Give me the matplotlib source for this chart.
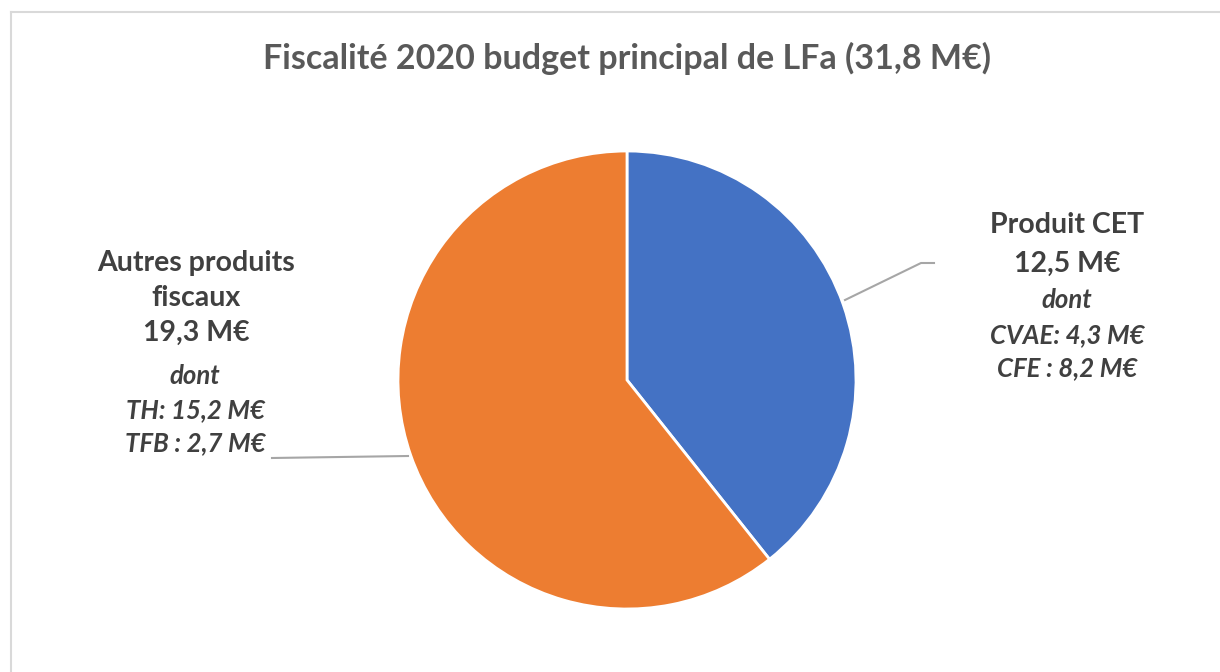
import matplotlib.pyplot as plt

plt.rcParams["font.family"] = ["Lato", "DejaVu Sans"]

# ====================== données ======================
titre = "Fiscalité 2020 budget principal de LFa (31,8 M€)"
categories = ["Produit CET", "Autres produits fiscaux"]
valeurs = [12.5, 19.3]
couleurs = ["#4472C4", "#ED7D31"]
lignes_cet = ["Produit CET", "12,5 M€", "dont", "CVAE: 4,3 M€", "CFE : 8,2 M€"]
lignes_autres = ["Autres produits", "fiscaux", "19,3 M€", "dont", "TH: 15,2 M€", "TFB : 2,7 M€"]

W, H = 1220, 672
fig = plt.figure(figsize=(W / 100, H / 100), dpi=100)
ax = fig.add_axes([0, 0, 1, 1])

# camembert en coordonnées pixel (axe y inversé -> sens trigo inversé à l'écran)
ax.pie(valeurs, colors=couleurs, startangle=-90, counterclock=True,
       center=(627, 380), radius=229,
       wedgeprops=dict(edgecolor="white", linewidth=2))
ax.set_xlim(0, W)
ax.set_ylim(H, 0)
ax.set_aspect("equal")
ax.axis("off")

# cadre (haut et gauche visibles)
ax.plot([11, W], [12, 12], color="#d9d9d9", lw=1.5, clip_on=False)
ax.plot([11, 11], [12, H], color="#d9d9d9", lw=1.5, clip_on=False)

ax.text(627, 58, titre, ha="center", va="center", fontsize=24.5,
        fontweight="bold", color="#595959")

gris = "#404040"
# étiquette droite
y_cet = [225, 264, 300, 335, 368]
for i, (txt, y) in enumerate(zip(lignes_cet, y_cet)):
    if i < 2:
        ax.text(1067, y, txt, ha="center", va="center", fontsize=20.5,
                fontweight="bold", color=gris)
    else:
        ax.text(1067, y, txt, ha="center", va="center", fontsize=18.5,
                fontweight="bold", style="italic", color=gris)

# étiquette gauche
y_aut = [263, 298, 333, 376, 410, 443]
for i, (txt, y) in enumerate(zip(lignes_autres, y_aut)):
    if i < 3:
        ax.text(196, y, txt, ha="center", va="center", fontsize=20.5,
                fontweight="bold", color=gris)
    else:
        ax.text(195, y, txt, ha="center", va="center", fontsize=18.5,
                fontweight="bold", style="italic", color=gris)

# lignes de rappel
ax.plot([845, 921, 934], [300, 263, 263], color="#a6a6a6", lw=1.5)
ax.plot([272, 408], [458, 456], color="#a6a6a6", lw=1.5)

fig.savefig("out.png", dpi=100)
